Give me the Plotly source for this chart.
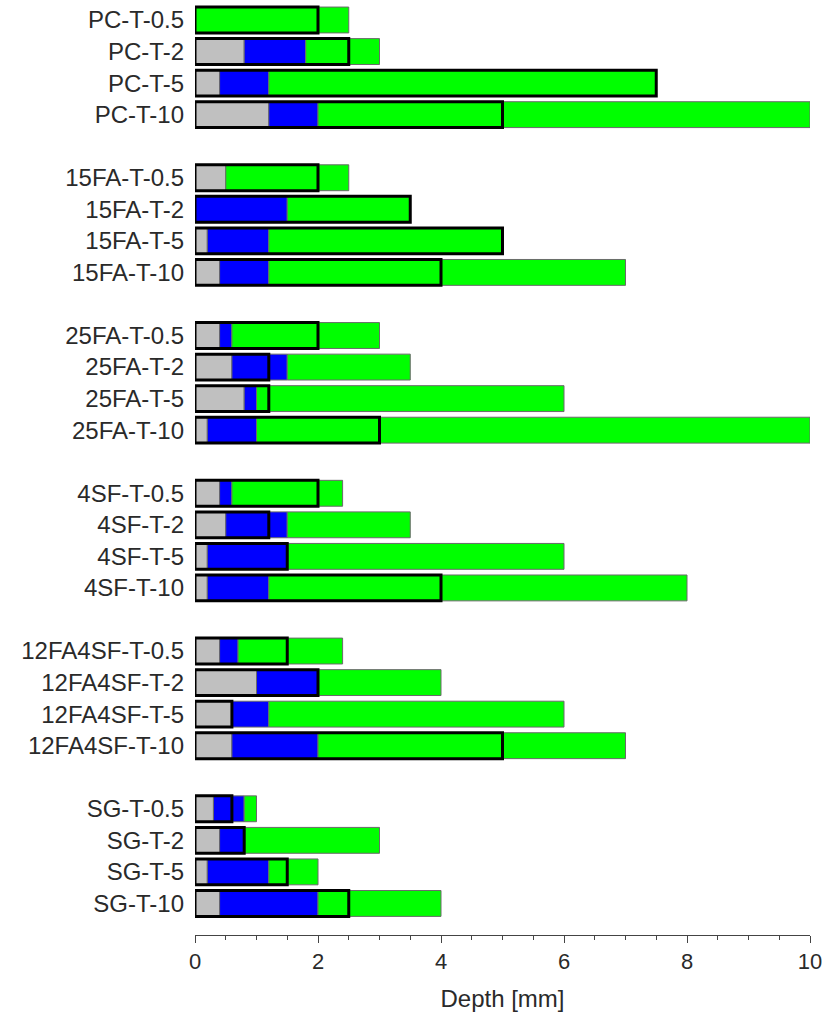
import plotly.graph_objects as go

# Sample names, top to bottom; None marks the blank row between groups
samples = [
    "PC-T-0.5", "PC-T-2", "PC-T-5", "PC-T-10", None,
    "15FA-T-0.5", "15FA-T-2", "15FA-T-5", "15FA-T-10", None,
    "25FA-T-0.5", "25FA-T-2", "25FA-T-5", "25FA-T-10", None,
    "4SF-T-0.5", "4SF-T-2", "4SF-T-5", "4SF-T-10", None,
    "12FA4SF-T-0.5", "12FA4SF-T-2", "12FA4SF-T-5", "12FA4SF-T-10", None,
    "SG-T-0.5", "SG-T-2", "SG-T-5", "SG-T-10",
]

# Depth (mm) where each zone ends, measured from the surface
gray_end = [0.0, 0.8, 0.4, 1.2,
            0.5, 0.0, 0.2, 0.4,
            0.4, 0.6, 0.8, 0.2,
            0.4, 0.5, 0.2, 0.2,
            0.4, 1.0, 0.6, 0.6,
            0.3, 0.4, 0.2, 0.4]
blue_end = [0.0, 1.8, 1.2, 2.0,
            0.5, 1.5, 1.2, 1.2,
            0.6, 1.5, 1.0, 1.0,
            0.6, 1.5, 1.5, 1.2,
            0.7, 2.0, 1.2, 2.0,
            0.8, 0.8, 1.2, 2.0]
green_end = [2.5, 3.0, 7.5, 10.0,
             2.5, 3.5, 5.0, 7.0,
             3.0, 3.5, 6.0, 10.0,
             2.4, 3.5, 6.0, 8.0,
             2.4, 4.0, 6.0, 7.0,
             1.0, 3.0, 2.0, 4.0]
# Depth of the outlined (black frame) zone
frame_end = [2.0, 2.5, 7.5, 5.0,
             2.0, 3.5, 5.0, 4.0,
             2.0, 1.2, 1.2, 3.0,
             2.0, 1.2, 1.5, 4.0,
             1.5, 2.0, 0.6, 5.0,
             0.6, 0.8, 1.5, 2.5]

rows = [i for i, s in enumerate(samples) if s is not None]
names = [s for s in samples if s is not None]


def seg(lo, hi):
    widths, bases = [], []
    for a, b in zip(lo, hi):
        if b - a > 1e-9:
            widths.append(b - a)
            bases.append(a)
        else:
            widths.append(None)
            bases.append(None)
    return widths, bases


zeros = [0.0] * len(rows)
edge = dict(color="#6a6a6a", width=1)
bar_w = 0.82

fig = go.Figure()
for lo, hi, color in [(zeros, gray_end, "#c0c0c0"),
                      (gray_end, blue_end, "#0000ff"),
                      (blue_end, green_end, "#00ff00")]:
    w, b = seg(lo, hi)
    fig.add_trace(go.Bar(
        y=rows, x=w, base=b, orientation="h", width=bar_w,
        marker=dict(color=color, line=edge), showlegend=False,
        hoverinfo="skip",
    ))

fig.add_trace(go.Bar(
    y=rows, x=frame_end, base=zeros, orientation="h", width=bar_w,
    marker=dict(color="rgba(0,0,0,0)", line=dict(color="#000000", width=3)),
    showlegend=False, hoverinfo="skip",
))

fig.update_layout(
    width=828, height=1014,
    margin=dict(l=195, r=18, t=4, b=79),
    barmode="overlay",
    plot_bgcolor="white", paper_bgcolor="white",
    font=dict(family="Liberation Sans, Arial, sans-serif", size=22, color="#2a2a2a"),
)
fig.update_xaxes(
    range=[0, 10], dtick=2, tick0=0,
    showgrid=False, zeroline=False,
    showline=True, linecolor="#444", linewidth=1,
    ticks="outside", ticklen=7, tickwidth=1, tickcolor="#444",
    minor=dict(dtick=0.5, ticks="outside", ticklen=4, tickcolor="#444"),
    tickfont=dict(size=22),
    title=dict(text="Depth [mm]", font=dict(size=24), standoff=16),
)
fig.update_yaxes(
    range=[29.0, -0.507],
    tickvals=rows, ticktext=names,
    showgrid=False, zeroline=False, showline=False, ticks="",
    tickfont=dict(size=24),
    ticklabelstandoff=10,
)

fig.write_html("out.html")
